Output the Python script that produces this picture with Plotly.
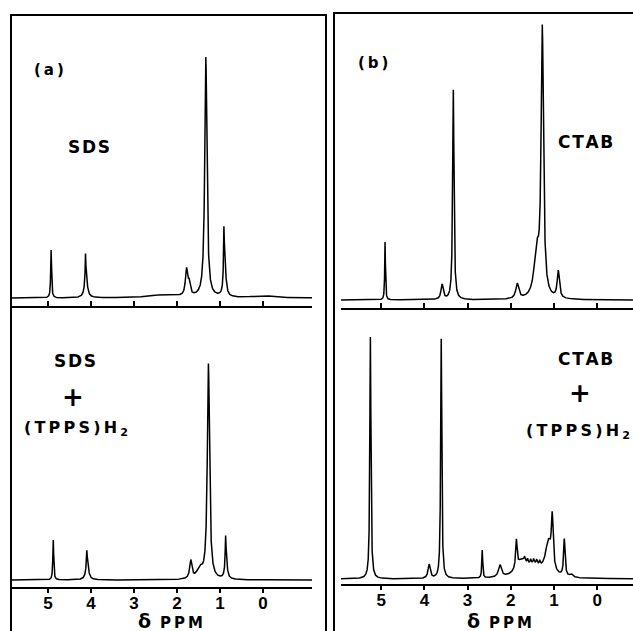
import numpy as np
import plotly.graph_objects as go

W, H = 633, 631

# ---- data ----
tick_vals = [5, 4, 3, 2, 1, 0]
tick_text = ["5", "4", "3", "2", "1", "0"]

# (a) top: SDS   (ppm, relative height, half-width ppm)
sds_ppm = [4.93, 4.13, 4.12, 2.30, 1.78, 1.72, 1.33, 0.91, 0.89, 0.00]
sds_height = [48, 22, 24, 3, 26, 12, 240, 45, 36, 2]
sds_width = [0.012, 0.008, 0.035, 0.40, 0.03, 0.03, 0.03, 0.01, 0.03, 0.30]

# (a) bottom: SDS + (TPPS)H2
sdsp_ppm = [4.88, 4.10, 4.09, 1.68, 1.47, 1.27, 0.87, 0.86]
sdsp_height = [40, 12, 19, 18, 10, 215, 25, 20]
sdsp_width = [0.012, 0.008, 0.035, 0.03, 0.08, 0.03, 0.01, 0.03]

# (b) top: CTAB
ctab_ppm = [4.91, 3.59, 3.33, 1.85, 1.40, 1.27, 0.90]
ctab_height = [58, 15, 210, 15, 45, 265, 27]
ctab_width = [0.010, 0.03, 0.018, 0.04, 0.07, 0.032, 0.03]

# (b) bottom: CTAB + (TPPS)H2
ctabp_ppm = [5.25, 3.89, 3.61, 2.66, 2.25, 1.87, 1.75, 1.68, 1.61, 1.54, 1.47,
             1.40, 1.33, 1.45, 1.13, 1.04, 0.76, 0.60]
ctabp_height = [242, 14, 240, 28, 12, 28, 15, 4, 4, 4, 4, 4, 4, 11, 32, 50, 37, 3]
ctabp_width = [0.015, 0.03, 0.015, 0.012, 0.04, 0.02, 0.15, 0.012, 0.012, 0.012,
               0.012, 0.012, 0.012, 0.22, 0.08, 0.025, 0.02, 0.04]

labels_a = ["SDS", "SDS", "(TPPS)H2"]
labels_b = ["CTAB", "CTAB", "(TPPS)H2"]


def spectrum(grid, ppm, height, width):
    g = np.asarray(grid)[:, None]
    p = np.asarray(ppm)[None, :]
    h = np.asarray(height)[None, :]
    w = np.asarray(width)[None, :]
    return (h / (1 + ((g - p) / w) ** 2)).sum(axis=1)


def px(x):
    return x / W


def py(y):
    return 1 - y / H


xa_range = [5.84, -1.14]
xb_range = [5.93, -0.83]
grid_a = np.linspace(xa_range[0], xa_range[1], 5000)
grid_b = np.linspace(xb_range[0], xb_range[1], 5000)

INK = "#000000"
fig = go.Figure()
line = dict(color=INK, width=1.5)
fig.add_trace(go.Scatter(x=grid_a, y=spectrum(grid_a, sds_ppm, sds_height, sds_width),
                         mode="lines", line=line, xaxis="x", yaxis="y", hoverinfo="skip"))
fig.add_trace(go.Scatter(x=grid_a, y=spectrum(grid_a, sdsp_ppm, sdsp_height, sdsp_width),
                         mode="lines", line=line, xaxis="x2", yaxis="y2", hoverinfo="skip"))
fig.add_trace(go.Scatter(x=grid_b, y=spectrum(grid_b, ctab_ppm, ctab_height, ctab_width),
                         mode="lines", line=line, xaxis="x3", yaxis="y3", hoverinfo="skip"))
fig.add_trace(go.Scatter(x=grid_b, y=spectrum(grid_b, ctabp_ppm, ctabp_height, ctabp_width),
                         mode="lines", line=line, xaxis="x4", yaxis="y4", hoverinfo="skip"))

tickfont = dict(family="Liberation Sans", size=17, color=INK, weight="bold")
xtop = dict(showline=True, linecolor=INK, linewidth=2, ticks="inside", ticklen=5,
            tickwidth=1.5, tickcolor=INK, tickvals=tick_vals, showticklabels=False,
            showgrid=False, zeroline=False)
xbot = dict(showline=True, linecolor=INK, linewidth=2, ticks="outside", ticklen=4,
            tickwidth=1.5, tickcolor=INK, tickvals=tick_vals, ticktext=tick_text,
            tickfont=tickfont, ticklabelstandoff=-4, showgrid=False, zeroline=False)
yhide = dict(visible=False, showgrid=False, zeroline=False)

fig.update_layout(
    width=W, height=H, margin=dict(l=0, r=0, t=0, b=0),
    paper_bgcolor="white", plot_bgcolor="white", showlegend=False,
    xaxis=dict(xtop, domain=[px(12), px(312)], range=xa_range, anchor="y"),
    yaxis=dict(yhide, domain=[py(306), py(15)], range=[-8, 283], anchor="x"),
    xaxis2=dict(xbot, domain=[px(12), px(312)], range=xa_range, anchor="y2"),
    yaxis2=dict(yhide, domain=[py(587), py(306)], range=[-7, 274], anchor="x2"),
    xaxis3=dict(xtop, domain=[px(341), 1], range=xb_range, anchor="y3"),
    yaxis3=dict(yhide, domain=[py(308), py(13)], range=[-8, 287], anchor="x3"),
    xaxis4=dict(xbot, domain=[px(341), 1], range=xb_range, anchor="y4"),
    yaxis4=dict(yhide, domain=[py(584), py(308)], range=[-5, 271], anchor="x4"),
)

# frames
frame = dict(color=INK, width=2)
shapes = [
    dict(type="path", path=f"M {px(11)} {py(631)} L {px(11)} {py(15)} L {px(326)} {py(15)} L {px(326)} {py(631)}",
         xref="paper", yref="paper", line=frame),
    dict(type="path", path=f"M {px(334)} {py(631)} L {px(334)} {py(13)} L {px(633)} {py(13)}",
         xref="paper", yref="paper", line=frame),
]
fig.update_layout(shapes=shapes)

thin = "\u2009"
hair = "\u200a"


def spaced(s, sp=thin):
    return sp.join(list(s))


bold = dict(family="DejaVu Sans", size=17, color=INK, weight="bold")
plus = dict(family="DejaVu Sans", size=26, color=INK, weight="bold")


def ann(text, x, y, font, xanchor="center"):
    return dict(text=text, x=px(x), y=py(y), xref="paper", yref="paper", showarrow=False,
                font=font, xanchor=xanchor, yanchor="middle", borderpad=0)


tpps = spaced("(TPPS)H") + thin + "<sub>2</sub>"
ppm_label = "<span style='font-size:19px'>δ</span>" + thin * 3 + spaced("PPM")
anns = [
    ann(spaced("(a)"), 49, 70, dict(bold, size=15)),
    ann(spaced(labels_a[0], hair), 89, 147, bold),
    ann(spaced(labels_a[1], hair), 75, 361, bold),
    ann("+", 73, 397, plus),
    ann(tpps, 76, 428, dict(bold, size=16)),
    ann(spaced("(b)"), 373, 63, dict(bold, size=15)),
    ann(spaced(labels_b[0], hair), 585, 142, bold),
    ann(spaced(labels_b[1], hair), 585, 359, bold),
    ann("+", 580, 393, plus),
    ann(tpps, 578, 431, dict(bold, size=16)),
    ann(ppm_label, 170, 621, dict(bold, size=15)),
    ann(ppm_label, 499, 621, dict(bold, size=15)),
]
fig.update_layout(annotations=anns)

fig.write_html("out.html", config={"displayModeBar": False},
               post_script="document.body.style.margin='0px';document.body.style.overflow='hidden';")
